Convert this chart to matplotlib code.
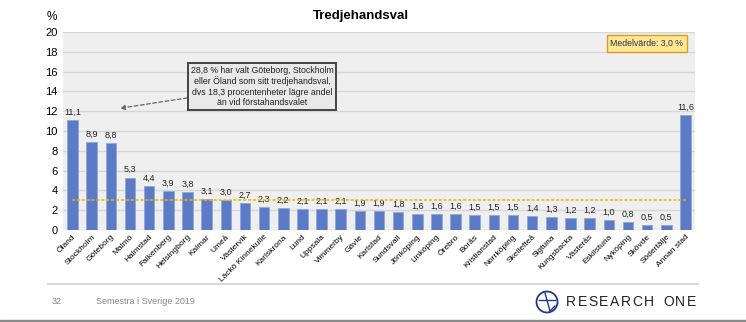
import matplotlib
matplotlib.use("Agg")
import matplotlib.pyplot as plt
from matplotlib.patches import Circle, Rectangle
from matplotlib.lines import Line2D

categories = ["Öland", "Stockholm", "Göteborg", "Malmö", "Halmstad", "Falkenberg",
              "Helsingborg", "Kalmar", "Umeå", "Västervik", "Läckö Kinnekulle",
              "Karlskrona", "Lund", "Uppsala", "Vimmerby", "Gävle", "Karlstad",
              "Sundsvall", "Jönköping", "Linköping", "Örebro", "Borås", "Kristianstad",
              "Norrköping", "Skellefteå", "Sigtuna", "Kungsbacka", "Västerås",
              "Eskilstuna", "Nyköping", "Skövde", "Södertälje", "Annan stad"]
values = [11.1, 8.9, 8.8, 5.3, 4.4, 3.9, 3.8, 3.1, 3.0, 2.7, 2.3, 2.2, 2.1, 2.1, 2.1,
          1.9, 1.9, 1.8, 1.6, 1.6, 1.6, 1.5, 1.5, 1.5, 1.4, 1.3, 1.2, 1.2, 1.0, 0.8,
          0.5, 0.5, 11.6]
mean_value = 3.0
yticks = [0, 2, 4, 6, 8, 10, 12, 14, 16, 18, 20]

plt.rcParams['font.family'] = ['Liberation Sans', 'DejaVu Sans']

W, H = 746, 322
fig = plt.figure(figsize=(W/100, H/100), dpi=100)
fig.patch.set_facecolor('white')

ax = fig.add_axes([63/W, 1-230/H, (695-63)/W, (230-32)/H])
ax.set_facecolor('#efefef')
x = list(range(len(categories)))
ax.bar(x, values, width=0.55, color='#5b7bc6', edgecolor='#8fa6dc', linewidth=0.6, zorder=3)
ax.set_xlim(-0.5, len(categories)-0.5)
ax.set_ylim(0, 20)
ax.set_yticks(yticks)
ax.set_yticklabels([str(t) for t in yticks], fontsize=8)
ax.yaxis.grid(True, color='#d6d6d6', linewidth=1.0, zorder=0)
ax.set_axisbelow(True)
for s in ax.spines.values():
    s.set_visible(False)
ax.tick_params(axis='both', length=0, pad=4)
ax.set_xticks(x)
ax.set_xticklabels(categories, rotation=45, ha='right', rotation_mode='anchor', fontsize=6.0)
ax.tick_params(axis='x', pad=2.5)

for xi, v in zip(x, values):
    ax.text(xi, v + 0.35, f"{v:.1f}".replace('.', ','), ha='center', va='bottom',
            fontsize=6.5, color='#222222', zorder=4)

ax.plot([-0.05, len(categories)-1+0.05], [mean_value, mean_value], linestyle=(0, (2, 1.2)),
        color='#f0b400', linewidth=1.1, zorder=4)

# Medelvärde box
ax.text(29.99, 18.84, "Medelvärde: 3,0 %", ha='center', va='center', fontsize=6.3,
        color='#333333', zorder=5,
        bbox=dict(boxstyle='square,pad=0.45', facecolor='#ffe699', edgecolor='#d4a21a', linewidth=1.0))

# annotation
ax.annotate("28,8 % har valt Göteborg, Stockholm\neller Öland som sitt tredjehandsval,\ndvs 18,3 procentenheter lägre andel\nän vid förstahandsvalet",
            xy=(2.48, 12.3), xytext=(9.89, 14.5), ha='center', va='center', fontsize=6.3,
            color='#222222', linespacing=1.2, zorder=5,
            bbox=dict(boxstyle='square,pad=0.3', facecolor='#e9e9e9', edgecolor='#444444', linewidth=1.4),
            arrowprops=dict(arrowstyle='-|>', linestyle=(0, (3, 2)), color='#666666', linewidth=0.9,
                            mutation_scale=7, shrinkA=0, shrinkB=0))

# title and unit
fig.text(361/W, 1-16/H, "Tredjehandsval", ha='center', va='center', fontsize=9.5, fontweight='bold')
fig.text(52/W, 1-17/H, "%", ha='center', va='center', fontsize=8.5)

# footer
fig.add_artist(Line2D([48/W, 698/W], [1-284/H, 1-284/H], color='#d9d9d9', linewidth=1.5))
fig.text(57/W, 1-302/H, "32", ha='center', va='center', fontsize=6.5, color='#888888')
fig.text(96/W, 1-302/H, "Semestra i Sverige 2019", ha='left', va='center', fontsize=6.5, color='#888888')
fig.add_artist(Rectangle((0, 0), 1, 2/H, transform=fig.transFigure, color='#8a8a8a'))

# logo
navy = '#1f3a8a'
fig.add_artist(Circle((5.47, (H-302)/100), 0.105, transform=fig.dpi_scale_trans, fill=False,
                      edgecolor=navy, linewidth=1.3))
fig.add_artist(Line2D([539/W, 555/W], [1-300/H, 1-300/H], color=navy, linewidth=1.0))
fig.add_artist(Line2D([545/W, 550/W], [1-293/H, 1-311/H], color=navy, linewidth=1.0))
fig.add_artist(Line2D([550/W, 555/W], [1-311/H, 1-306/H], color=navy, linewidth=1.0))

logo_text = "RESEARCH ONE"
renderer = fig.canvas.get_renderer()
chars = []
widths = []
for ch in logo_text:
    t = fig.text(0, 1-302/H, ch, ha='left', va='center', fontsize=10, color='#222222')
    chars.append(t)
    if ch == ' ':
        widths.append(6.0)
    else:
        widths.append(t.get_window_extent(renderer).width)
x0, x1 = 566, 696
track = (x1 - x0 - sum(widths)) / (len(logo_text) - 1)
pos = x0
for t, w in zip(chars, widths):
    t.set_x(pos / W)
    pos += w + track

fig.savefig("out.png", dpi=100)
